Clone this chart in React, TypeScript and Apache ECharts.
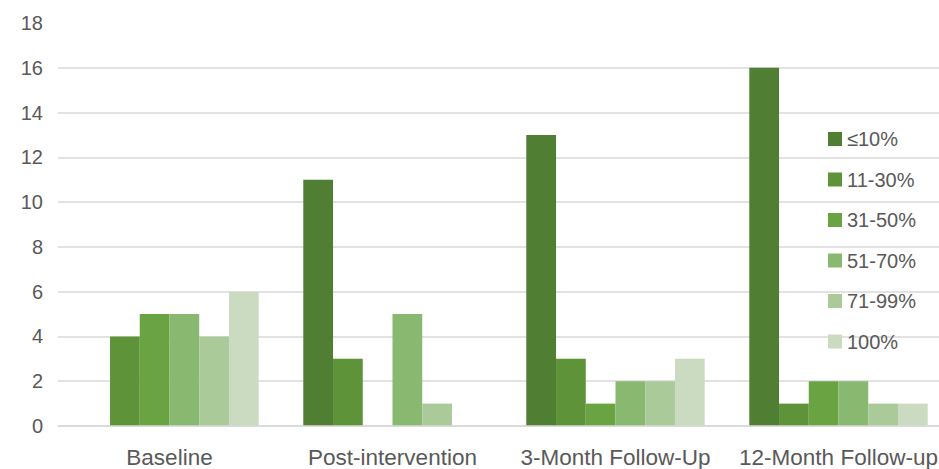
import React, { useEffect, useRef } from "react";
import * as echarts from "echarts";

const categories = ["Baseline", "Post-intervention", "3-Month Follow-Up", "12-Month Follow-up"];
const seriesNames = ["≤10%", "11-30%", "31-50%", "51-70%", "71-99%", "100%"];
const le10 = [0, 11, 13, 16];
const r11to30 = [4, 3, 3, 1];
const r31to50 = [5, 0, 1, 2];
const r51to70 = [5, 5, 2, 2];
const r71to99 = [4, 1, 2, 1];
const r100 = [6, 0, 3, 1];
const seriesValues = [le10, r11to30, r31to50, r51to70, r71to99, r100];
const colors = ["#507E32", "#5F933A", "#6AA342", "#89B870", "#ABCA9A", "#CADBC2"];
const yTicks = [0, 2, 4, 6, 8, 10, 12, 14, 16, 18];

const FONT = "Liberation Sans";

export default function App() {
  const ref = useRef<HTMLDivElement>(null);
  useEffect(() => {
    if (!ref.current) return;
    const chart = echarts.init(ref.current, undefined, { renderer: "svg" });
    const gridColors = yTicks.map((t) => (t === 18 ? "rgba(0,0,0,0)" : "#d9d9d9"));
    chart.setOption({
      animation: false,
      backgroundColor: "#ffffff",
      color: colors,
      grid: { left: 58, top: 23, width: 892, height: 403, containLabel: false },
      legend: {
        orient: "vertical",
        left: 823,
        top: 124,
        itemWidth: 14,
        itemHeight: 14,
        itemGap: 20.5,
        icon: "rect",
        textStyle: { fontFamily: FONT, fontSize: 20, color: "#595959" },
        data: seriesNames,
      },
      xAxis: {
        type: "category",
        data: categories,
        z: 5,
        axisLine: { show: true, lineStyle: { color: "#d9d9d9", width: 1.5 } },
        axisTick: { show: false },
        axisLabel: { interval: 0, fontFamily: FONT, fontSize: 22.5, color: "#595959", margin: 20 },
      },
      yAxis: {
        type: "value",
        min: 0,
        max: 18,
        interval: 2,
        axisLine: { show: false },
        axisTick: { show: false },
        axisLabel: { fontFamily: FONT, fontSize: 20, color: "#595959", margin: 15 },
        splitLine: { show: true, lineStyle: { color: gridColors, width: 1.5 } },
      },
      series: seriesNames.map((name, i) => ({
        name,
        type: "bar",
        data: seriesValues[i],
        barGap: "0%",
        barCategoryGap: "20%",
        itemStyle: { color: colors[i] },
      })),
    });
    return () => chart.dispose();
  }, []);
  return (
    <div style={{ width: 939, height: 469, position: "absolute", left: 0, top: 0, overflow: "hidden" }}>
      <div ref={ref} style={{ width: 950, height: 469 }} />
    </div>
  );
}
